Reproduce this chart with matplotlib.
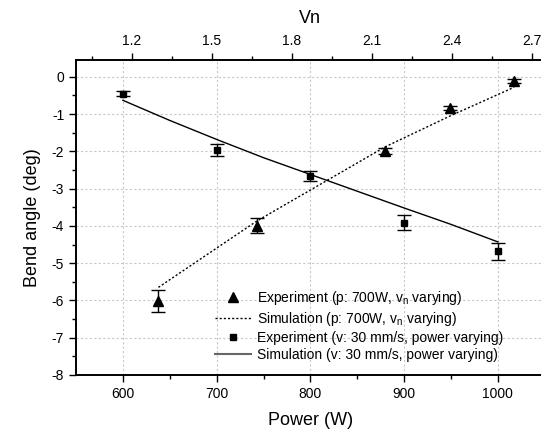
import matplotlib.pyplot as plt
from matplotlib.lines import Line2D

plt.rcParams['font.family'] = ['Liberation Sans', 'DejaVu Sans']
plt.rcParams['axes.unicode_minus'] = False

# power series (v = 30 mm/s)
power = [600, 700, 800, 900, 1000]
bend_power = [-0.45, -1.97, -2.67, -3.91, -4.68]
err_power = [0.07, 0.16, 0.13, 0.2, 0.23]
sim_power_x = [600, 650, 700, 750, 800, 850, 900, 950, 1000]
sim_power_y = [-0.63, -1.17, -1.68, -2.17, -2.62, -3.07, -3.52, -3.96, -4.43]

# Vn series (p = 700 W)
vn = [1.30, 1.669, 2.15, 2.394, 2.634]
bend_vn = [-6.02, -3.99, -1.99, -0.84, -0.12]
err_vn = [0.3, 0.19, 0.07, 0.06, 0.05]
sim_vn_x = [1.30, 1.669, 2.15, 2.394, 2.634]
sim_vn_y = [-5.65, -3.87, -1.88, -1.05, -0.28]

fig = plt.figure(figsize=(5.41, 4.29), dpi=100)
ax = fig.add_axes([0.1405, 0.126, 0.8665, 0.734])
ax2 = ax.twiny()

# bottom axis: power
ax.errorbar(power, bend_power, yerr=err_power, fmt='s', color='black',
            markersize=5, capsize=5, elinewidth=1, capthick=1)
ax.plot(sim_power_x, sim_power_y, '-', color='black', linewidth=1)

# top axis: Vn
ax2.errorbar(vn, bend_vn, yerr=err_vn, fmt='^', color='black',
             markersize=7, capsize=5, elinewidth=1, capthick=1)
ax2.plot(sim_vn_x, sim_vn_y, linestyle=(0, (1.5, 1.5)), color='black', linewidth=1)

ax.set_xlim(550, 1050)
ax.set_ylim(-8, 0.45)
ax2.set_xlim(0.991, 2.749)

ax.set_xticks([600, 700, 800, 900, 1000])
ax.set_xticks([650, 750, 850, 950], minor=True)
ax.set_yticks(range(-8, 1))
ax.set_yticks([v + 0.5 for v in range(-8, 0)], minor=True)
ax2.set_xticks([1.2, 1.5, 1.8, 2.1, 2.4, 2.7])
ax2.set_xticklabels(['1.2', '1.5', '1.8', '2.1', '2.4', '2.7'])
ax2.set_xticks([1.05, 1.35, 1.65, 1.95, 2.25, 2.55], minor=True)

for a in (ax, ax2):
    a.tick_params(which='major', direction='out', length=5, width=1, labelsize=10)
    a.tick_params(which='minor', direction='out', length=3, width=1)
    for s in a.spines.values():
        s.set_linewidth(1.2)
ax.tick_params(top=False, right=False)

ax.grid(True, which='major', linestyle=(0, (2, 2)), color='#c8c8c8', linewidth=0.8)
ax.set_axisbelow(True)

ax.set_xlabel('Power (W)', fontsize=13, labelpad=8)
ax.set_ylabel('Bend angle (deg)', fontsize=13, labelpad=8)
ax2.set_xlabel('Vn', fontsize=13, labelpad=8)

# legend shows plain markers and lines, without the error bars
handles = [
    Line2D([], [], marker='^', linestyle='none', color='black', markersize=7),
    Line2D([], [], linestyle=(0, (1.5, 1.5)), color='black', linewidth=1),
    Line2D([], [], marker='s', linestyle='none', color='black', markersize=5),
    Line2D([], [], linestyle='-', color='#666666', linewidth=1.5),
]
labels = ['Experiment (p: 700W, v$_\\mathregular{n}$ varying)',
          'Simulation (p: 700W, v$_\\mathregular{n}$ varying)',
          'Experiment (v: 30 mm/s, power varying)',
          'Simulation (v: 30 mm/s, power varying)']
ax.legend(handles, labels, loc='lower left', bbox_to_anchor=(0.27, 0.002),
          frameon=False, fontsize=10, handlelength=2.6, handletextpad=0.4,
          labelspacing=0.22)

fig.savefig('out.png', dpi=100)
